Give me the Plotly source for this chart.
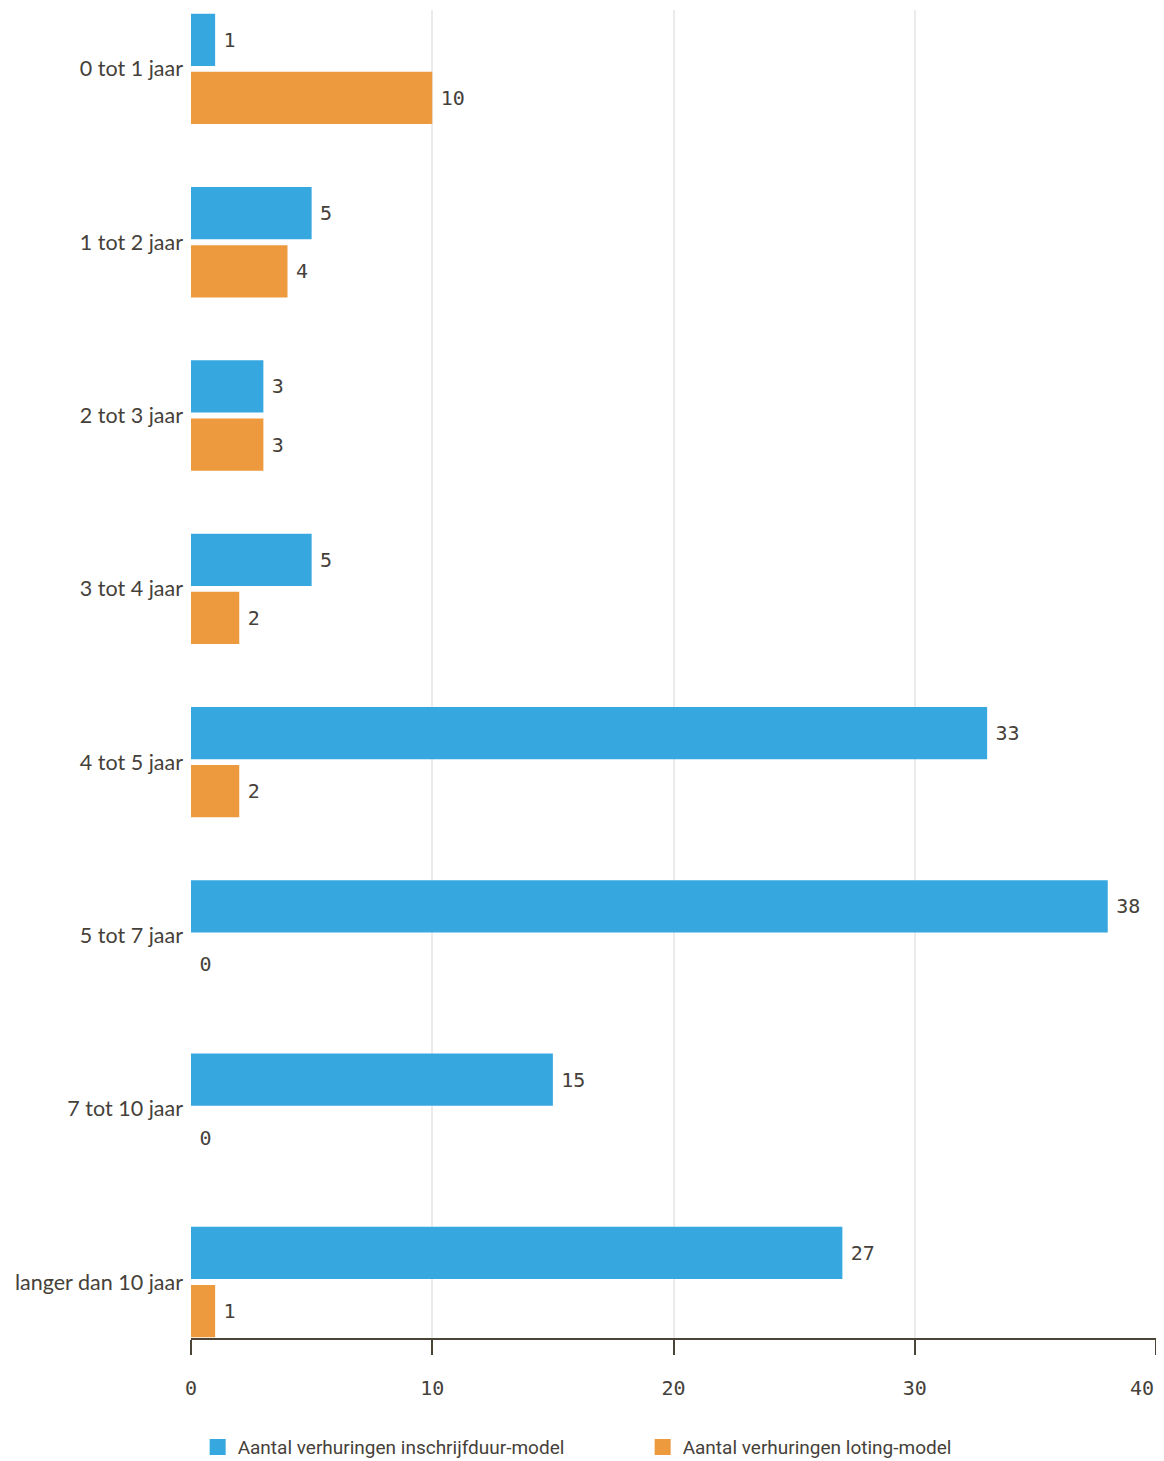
import plotly.graph_objects as go

categories = ["0 tot 1 jaar", "1 tot 2 jaar", "2 tot 3 jaar", "3 tot 4 jaar",
              "4 tot 5 jaar", "5 tot 7 jaar", "7 tot 10 jaar", "langer dan 10 jaar"]
inschrijfduur = [1, 5, 3, 5, 33, 38, 15, 27]
loting = [10, 4, 3, 2, 2, 0, 0, 1]
series_names = ["Aantal verhuringen inschrijfduur-model", "Aantal verhuringen loting-model"]
x_ticks = [0, 10, 20, 30, 40]

BLUE = "#37a8df"
ORANGE = "#ed993d"
TEXT = "#45413a"
AXIS = "#4a4536"
MONO = "DejaVu Sans Mono, Liberation Mono, monospace"
SANS = "Lato, Open Sans, sans-serif"

PAD = '<span style="font-size:9px">\u00a0</span>'

fig = go.Figure()
for name, vals, col in [(series_names[0], inschrijfduur, BLUE), (series_names[1], loting, ORANGE)]:
    fig.add_trace(go.Bar(
        y=categories, x=vals, name=name, orientation="h",
        marker=dict(color=col, line=dict(width=0)),
        text=[PAD + str(v) for v in vals], textposition="outside",
        textfont=dict(family=MONO, size=20, color=TEXT),
        cliponaxis=False, showlegend=False,
    ))

# legend entries with larger square swatches
for name, col in [(series_names[0], BLUE), (series_names[1], ORANGE)]:
    fig.add_trace(go.Scatter(
        x=[None], y=[None], mode="markers", name=name,
        marker=dict(symbol="square", size=20, color=col),
        showlegend=True,
    ))

# the last tick label sits inside the right edge (drawn as annotation)
tick_text = [str(t) for t in x_ticks]
last_label = tick_text[-1]
tick_text[-1] = ""

fig.add_annotation(
    x=x_ticks[-1], xref="x", y=0, yref="paper",
    text=last_label, showarrow=False,
    xanchor="right", yanchor="middle", yshift=-50,
    font=dict(family=MONO, size=20, color=TEXT),
)

fig.update_layout(
    width=1156, height=1453,
    margin=dict(l=183, r=8, t=2, b=123, autoexpand=False),
    paper_bgcolor="white", plot_bgcolor="white",
    barmode="group", bargap=0.33, bargroupgap=0.1,
    font=dict(family=SANS, color=TEXT),
    showlegend=True,
    legend=dict(
        orientation="h", xref="container", yref="paper",
        x=0.549, xanchor="center", y=-0.0821, yanchor="middle",
        font=dict(family="Roboto, sans-serif", size=19, color=TEXT),
        entrywidth=400, entrywidthmode="pixels",
        itemclick=False,
    ),
    xaxis=dict(
        range=[0, 40], tickvals=x_ticks, ticktext=tick_text,
        showgrid=True, gridcolor="#ebebeb", gridwidth=1.5,
        zeroline=False,
        showline=True, linecolor=AXIS, linewidth=2,
        ticks="outside", ticklen=15, tickwidth=2, tickcolor=AXIS,
        ticklabelstandoff=16,
        tickfont=dict(family=MONO, size=20, color=TEXT),
        fixedrange=True,
    ),
    yaxis=dict(
        categoryorder="array", categoryarray=categories,
        range=[7.323, -0.34],
        showgrid=False, zeroline=False, showline=False,
        ticks="", ticklabelstandoff=7,
        tickfont=dict(family=SANS, size=21.5, color=TEXT),
        fixedrange=True,
    ),
)

fig.write_html("out.html")
